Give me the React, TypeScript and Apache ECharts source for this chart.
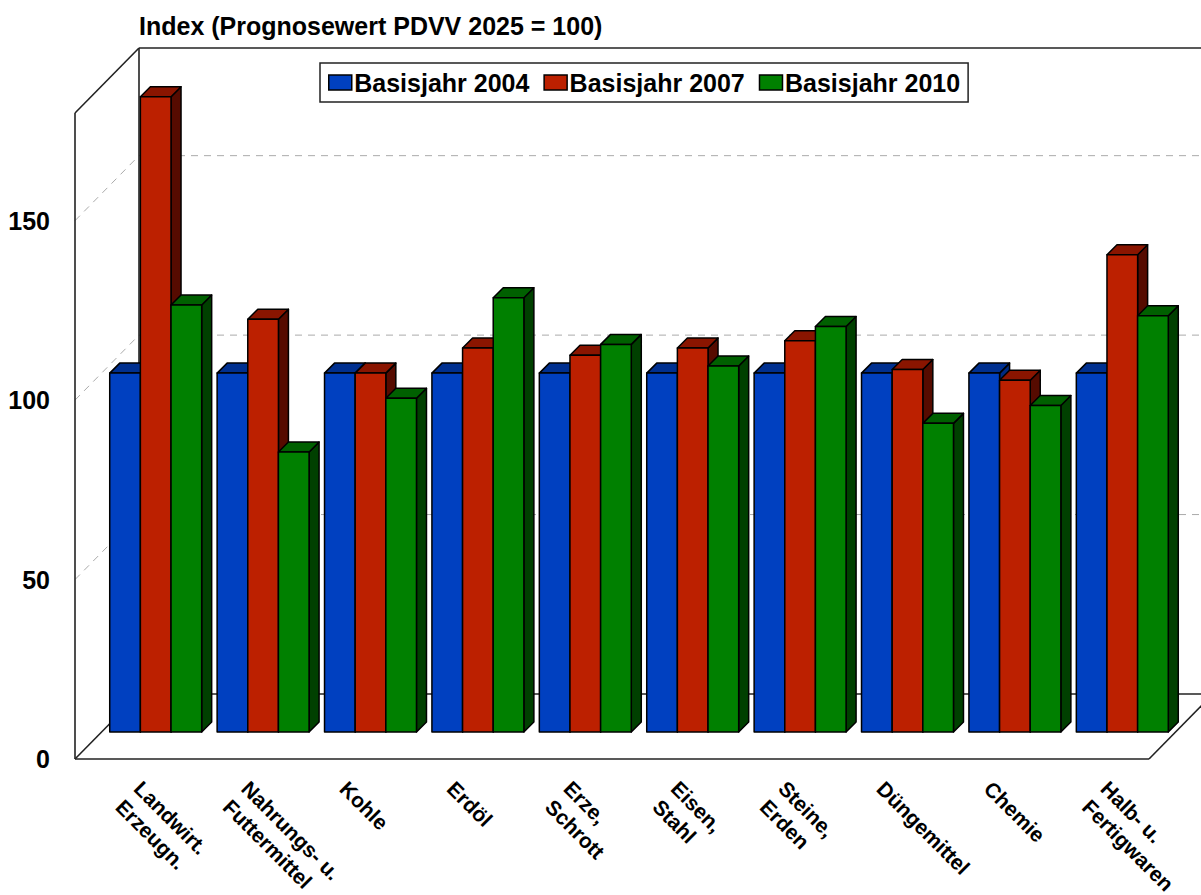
import React, { useEffect, useRef } from "react";
import * as echarts from "echarts";

const categories = ["Landwirt.\nErzeugn.", "Nahrungs- u.\nFuttermittel", "Kohle", "Erdöl", "Erze,\nSchrott", "Eisen,\nStahl", "Steine,\nErden", "Düngemittel", "Chemie", "Halb- u.\nFertigwaren"];
const basis2004 = [100, 100, 100, 100, 100, 100, 100, 100, 100, 100];
const basis2007 = [177, 115, 100, 107, 105, 107, 109, 101, 98, 133];
const basis2010 = [119, 78, 93, 121, 108, 102, 113, 86, 91, 116];
const yTicks = [50, 100, 150];
const yMax = 180;
const font = "'Liberation Sans', Arial, sans-serif";

const palette = [
  { name: "Basisjahr 2004", values: basis2004, front: "#0040C0", top: "#003090", side: "#002A80" },
  { name: "Basisjahr 2007", values: basis2007, front: "#BC2000", top: "#8A1500", side: "#560B00" },
  { name: "Basisjahr 2010", values: basis2010, front: "#008000", top: "#006000", side: "#004000" },
];

const FLOOR_DX = 27, FLOOR_DY = 27, BACK_DX = 64, BACK_DY = 65, BAR_W = 30.65, DEPTH = 10;

function barRenderer(index: number, p: any) {
  return (_params: any, api: any) => {
    const i = api.value(0), v = api.value(1);
    const base = api.coord([i, 0]);
    const topPt = api.coord([i, v]);
    const x0 = base[0] + FLOOR_DX + (index - 1.5) * BAR_W;
    const x1 = x0 + BAR_W;
    const yB = base[1] - FLOOR_DY;
    const yT = topPt[1] - FLOOR_DY;
    const line = { stroke: "#000", lineWidth: 1.5, lineJoin: "round" };
    return {
      type: "group",
      children: [
        { type: "polygon", shape: { points: [[x1, yB], [x1 + DEPTH, yB - DEPTH], [x1 + DEPTH, yT - DEPTH], [x1, yT]] }, style: { fill: p.side, ...line } },
        { type: "polygon", shape: { points: [[x0, yT], [x0 + DEPTH, yT - DEPTH], [x1 + DEPTH, yT - DEPTH], [x1, yT]] }, style: { fill: p.top, ...line } },
        { type: "rect", shape: { x: x0, y: yT, width: BAR_W, height: yB - yT }, style: { fill: p.front, ...line } },
      ],
    };
  };
}

function wallRenderer(params: any, api: any) {
  const c = params.coordSys;
  const xL = c.x, xR = c.x + c.width, yF = c.y + c.height, yTop = c.y;
  const solid = { stroke: "#222", lineWidth: 1.6, fill: "none" };
  const dash = { stroke: "#aaa", lineWidth: 1, lineDash: [7, 6], fill: "none" };
  const L = (x1: number, y1: number, x2: number, y2: number, style: any) => ({ type: "line", shape: { x1, y1, x2, y2 }, style });
  const children: any[] = [];
  yTicks.forEach((t) => {
    const y = api.coord([0, t])[1];
    children.push(L(xL, y, xL + BACK_DX, y - BACK_DY, dash));
    children.push(L(xL + BACK_DX, y - BACK_DY, xR + BACK_DX, y - BACK_DY, dash));
  });
  children.push(L(xL, yTop, xL, yF, solid));
  children.push(L(xL, yF, xR, yF, solid));
  children.push(L(xL, yTop, xL + BACK_DX, yTop - BACK_DY, solid));
  children.push(L(xL + BACK_DX, yTop - BACK_DY, xR + BACK_DX, yTop - BACK_DY, solid));
  children.push(L(xL + BACK_DX, yTop - BACK_DY, xL + BACK_DX, yF - BACK_DY, solid));
  children.push(L(xL, yF, xL + BACK_DX, yF - BACK_DY, solid));
  children.push(L(xL + BACK_DX, yF - BACK_DY, xR + BACK_DX, yF - BACK_DY, solid));
  children.push(L(xR, yF, xR + BACK_DX, yF - BACK_DY, solid));
  return { type: "group", children };
}

export default function App() {
  const ref = useRef<HTMLDivElement>(null);
  useEffect(() => {
    const chart = echarts.init(ref.current!, undefined, { renderer: "svg" });
    chart.setOption({
      animation: false,
      backgroundColor: "#fff",
      title: {
        text: "Index (Prognosewert PDVV 2025 = 100)",
        left: 139,
        top: 13,
        padding: 0,
        textStyle: { fontFamily: font, fontSize: 25, fontWeight: "bold", color: "#000" },
      },
      legend: {
        left: 320,
        top: 63,
        padding: [7, 8, 7, 8],
        itemWidth: 23,
        itemHeight: 15,
        itemGap: 14,
        backgroundColor: "#fff",
        borderColor: "#222",
        borderWidth: 1.5,
        selectedMode: false,
        textStyle: { fontFamily: font, fontSize: 25, fontWeight: "bold", color: "#000", padding: [0, 0, 0, -2.5] },
        data: palette.map((p) => ({ name: p.name, icon: "rect", itemStyle: { color: p.front, borderColor: "#000", borderWidth: 1.5 } })),
      },
      grid: { left: 75, top: 113, width: 1074, height: 646, outerBoundsMode: "none" },
      xAxis: {
        type: "category",
        data: categories.map((c) => (c.includes("\n") ? c : { value: c, textStyle: { verticalAlign: "bottom", padding: [0, 0, -6.6, -6.4] } })),
        axisLine: { show: false },
        axisTick: { show: false },
        axisLabel: {
          interval: 0,
          rotate: -45,
          align: "left",
          verticalAlign: "middle",
          margin: 35,
          fontFamily: font,
          fontSize: 21,
          fontWeight: "bold",
          color: "#000",
          lineHeight: 26,
        },
      },
      yAxis: {
        type: "value",
        min: 0,
        max: yMax,
        interval: 50,
        axisLine: { show: false },
        axisTick: { show: false },
        splitLine: { show: false },
        axisLabel: { showMaxLabel: false, margin: 25, fontFamily: font, fontSize: 25, fontWeight: "bold", color: "#000" },
      },
      series: [
        { type: "custom", name: "walls", silent: true, z: 1, data: [[0, 0]], renderItem: wallRenderer, encode: { x: 0, y: 1 } },
        ...palette.map((p, idx) => ({
          type: "custom",
          name: p.name,
          z: 2 + idx,
          itemStyle: { color: p.front },
          renderItem: barRenderer(idx, p),
          encode: { x: 0, y: 1 },
          data: p.values.map((v, i) => [i, v]),
        })),
      ],
    });
    return () => chart.dispose();
  }, []);
  return <div ref={ref} style={{ position: "fixed", left: 0, top: 0, width: 1201, height: 895, overflow: "hidden" }} />;
}
